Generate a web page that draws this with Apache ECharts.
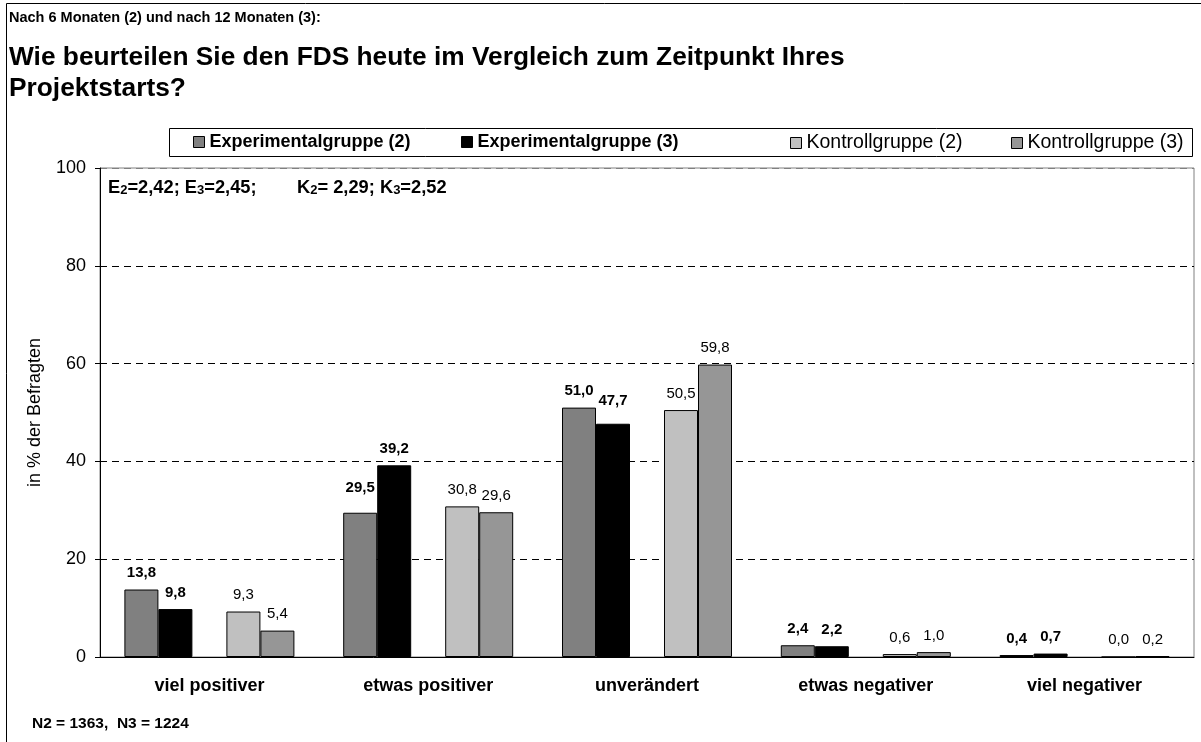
<!DOCTYPE html>
<html>
<head>
<meta charset="utf-8">
<script src="https://cdn.jsdelivr.net/npm/echarts@6/dist/echarts.min.js"></script>
<style>
  html, body { margin: 0; padding: 0; background: #fff; }
  #main { width: 1201px; height: 742px; }
</style>
</head>
<body>
<div id="main"></div>
<script>
var categories = ['viel positiver', 'etwas positiver', 'unverändert', 'etwas negativer', 'viel negativer'];
var exp2 = [13.8, 29.5, 51.0, 2.4, 0.4];
var exp3 = [9.8, 39.2, 47.7, 2.2, 0.7];
var kon2 = [9.3, 30.8, 50.5, 0.6, 0.0];
var kon3 = [5.4, 29.6, 59.8, 1.0, 0.2];
var yTicks = [0, 20, 40, 60, 80, 100];

var font = 'Liberation Sans, Arial, sans-serif';

// half-category slots, only used for the small ticks between the groups
var halfSlots = [];
categories.forEach(function (c) { halfSlots.push(c + ' E', c + ' K'); });

// labels excel lifted a bit to keep them apart
var lifted = { 'Experimentalgruppe (2)': { 1: -8 }, 'Experimentalgruppe (3)': { 2: -6 } };

function fmt(p) {
    return p.value == null ? '' : p.value.toFixed(1).replace('.', ',');
}

function barSeries(name, values, color, bold) {
    var data = values.map(function (v, i) {
        var off = lifted[name] && lifted[name][i];
        return off ? { value: v, label: { offset: [0, off] } } : v;
    });
    return {
        name: name,
        type: 'bar',
        xAxisIndex: 1,
        barWidth: 34,
        barGap: '0%',
        data: data,
        itemStyle: { color: color, borderColor: '#000', borderWidth: 1 },
        label: {
            show: true,
            position: 'top',
            distance: 9,
            formatter: fmt,
            color: '#000',
            fontFamily: font,
            fontSize: 15,
            fontWeight: bold ? 'bold' : 'normal'
        }
    };
}

var myChart = echarts.init(document.getElementById('main'));

function legendAt(name, left, bold, size) {
    return {
        left: left,
        top: 133,
        padding: 0,
        icon: 'rect',
        itemWidth: 11,
        itemHeight: 11,
        itemStyle: { borderColor: '#000', borderWidth: 1 },
        data: [name],
        textStyle: { fontFamily: font, fontSize: size, color: '#000', fontWeight: bold ? 'bold' : 'normal' }
    };
}

var option = {
    animation: false,
    backgroundColor: '#fff',
    title: [
        {
            text: 'Nach 6 Monaten (2) und nach 12 Monaten (3):',
            left: 9, top: 10, padding: 0,
            textStyle: { fontFamily: font, fontSize: 14.5, fontWeight: 'bold', color: '#000' }
        },
        {
            text: 'Wie beurteilen Sie den FDS heute im Vergleich zum Zeitpunkt Ihres\nProjektstarts?',
            left: 9, top: 42, padding: 0,
            textStyle: { fontFamily: font, fontSize: 26.3, fontWeight: 'bold', color: '#000', lineHeight: 31 }
        }
    ],
    legend: [
        legendAt('Experimentalgruppe (2)', 193, true, 18),
        legendAt('Experimentalgruppe (3)', 461, true, 18),
        legendAt('Kontrollgruppe (2)', 790, false, 19.5),
        legendAt('Kontrollgruppe (3)', 1011, false, 19.5)
    ],
    grid: {
        left: 100, right: 7, top: 168, bottom: 85,
        show: true, borderColor: '#808080', borderWidth: 1
    },
    xAxis: [
        {
            type: 'category',
            data: halfSlots,
            axisLine: { lineStyle: { color: '#000' } },
            axisTick: { inside: true, length: 5, lineStyle: { color: '#000' } },
            axisLabel: { show: false }
        },
        {
            type: 'category',
            data: categories,
            position: 'bottom',
            axisLine: { show: false },
            axisTick: { length: 6, lineStyle: { color: '#000' } },
            axisLabel: { margin: 20, fontFamily: font, fontSize: 18, fontWeight: 'bold', color: '#000' }
        }
    ],
    yAxis: {
        type: 'value',
        min: yTicks[0],
        max: yTicks[yTicks.length - 1],
        interval: 20,
        name: 'in % der Befragten',
        nameLocation: 'middle',
        nameRotate: 90,
        nameGap: 56,
        nameTextStyle: { fontFamily: font, fontSize: 18, color: '#000' },
        axisLine: { show: true, lineStyle: { color: '#000' } },
        axisTick: { show: true, length: 5, lineStyle: { color: '#000' } },
        axisLabel: { margin: 14, fontFamily: font, fontSize: 18, color: '#000' },
        splitLine: {
            show: true,
            lineStyle: { color: ['#000', '#000', '#000', '#000', '#000', '#808080'], type: [7, 5], width: 1 }
        }
    },
    series: [
        barSeries('Experimentalgruppe (2)', exp2, '#808080', true),
        barSeries('Experimentalgruppe (3)', exp3, '#000000', true),
        // empty slot between the two groups, like the excel original
        { name: 'gap', type: 'bar', xAxisIndex: 1, barWidth: 34, barGap: '0%', data: categories.map(function () { return null; }) },
        barSeries('Kontrollgruppe (2)', kon2, '#c0c0c0', false),
        barSeries('Kontrollgruppe (3)', kon3, '#969696', false)
    ],
    graphic: [
        {
            type: 'rect',
            shape: { x: 6.5, y: 3.5, width: 1220, height: 760 },
            style: { fill: 'none', stroke: '#000', lineWidth: 1 },
            silent: true
        },
        {
            type: 'rect',
            shape: { x: 169.5, y: 128.5, width: 1023, height: 28 },
            style: { fill: 'none', stroke: '#000', lineWidth: 1 },
            silent: true
        },
        {
            type: 'text',
            left: 108, top: 179,
            style: {
                text: 'E{s|2}=2,42; E{s|3}=2,45;',
                fontFamily: font, fontSize: 18.3, fontWeight: 'bold', fill: '#000',
                rich: { s: { fontFamily: font, fontSize: 13, fontWeight: 'bold', verticalAlign: 'bottom' } }
            }
        },
        {
            type: 'text',
            left: 297, top: 179,
            style: {
                text: 'K{s|2}= 2,29; K{s|3}=2,52',
                fontFamily: font, fontSize: 18.3, fontWeight: 'bold', fill: '#000',
                rich: { s: { fontFamily: font, fontSize: 13, fontWeight: 'bold', verticalAlign: 'bottom' } }
            }
        },
        {
            type: 'text',
            left: 32, top: 716,
            style: {
                text: 'N2 = 1363,  N3 = 1224',
                fontFamily: font, fontSize: 15.5, fontWeight: 'bold', fill: '#000'
            }
        }
    ]
};

myChart.setOption(option);
</script>
</body>
</html>
